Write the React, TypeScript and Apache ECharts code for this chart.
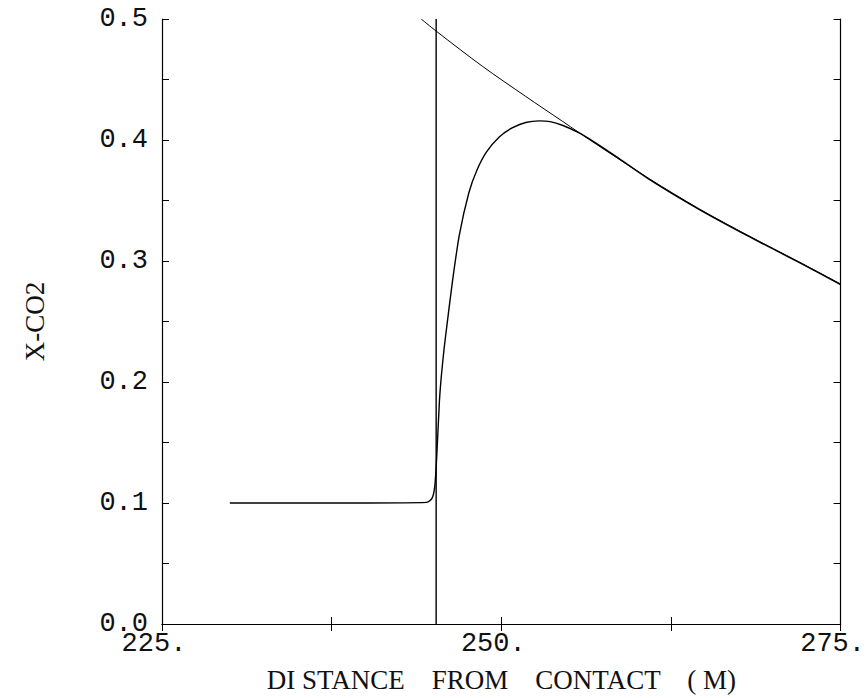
import React, { useEffect, useRef } from "react";
import * as echarts from "echarts";

const xTickLabels = [225, 250, 275];
const yTickLabels = [0.0, 0.1, 0.2, 0.3, 0.4, 0.5];

const contactLine: [number, number][] = [
  [245.2, 0.0],
  [245.2, 0.5],
];

const upperCurve: [number, number][] = [
  [244.1, 0.5],
  [245.2, 0.49],
  [248.6, 0.461],
  [251.8, 0.436],
  [254.5, 0.4155],
  [257.0, 0.3965],
  [260.9, 0.368],
  [264.6, 0.343],
  [268.2, 0.321],
  [271.9, 0.2995],
  [275.0, 0.281],
];

const lowerCurve: [number, number][] = [
  [230.0, 0.1],
  [236.0, 0.1],
  [240.0, 0.1],
  [244.5, 0.1005],
  [244.9, 0.104],
  [245.1, 0.114],
  [245.25, 0.14],
  [245.44, 0.184],
  [245.6, 0.207],
  [245.8, 0.229],
  [246.05, 0.252],
  [246.4, 0.283],
  [246.9, 0.321],
  [247.6, 0.356],
  [248.2, 0.375],
  [248.9, 0.39],
  [249.85, 0.4025],
  [250.8, 0.41],
  [251.8, 0.4145],
  [252.8, 0.4158],
  [253.6, 0.4152],
  [254.5, 0.4122],
  [255.7, 0.406],
  [257.0, 0.3972],
  [258.5, 0.386],
  [260.9, 0.3675],
  [264.6, 0.3425],
  [268.2, 0.3205],
  [271.9, 0.299],
  [275.0, 0.2805],
];

export default function App() {
  const ref = useRef<HTMLDivElement>(null);
  useEffect(() => {
    if (!ref.current) return;
    const chart = echarts.init(ref.current, null, { renderer: "svg" });
    const labelFont = {
      fontFamily: "Liberation Mono",
      fontSize: 27,
      color: "#111",
    };
    const titleFont = { fontFamily: "Liberation Serif", fontSize: 27, color: "#111" };
    const axisLine = { show: true, lineStyle: { color: "#000", width: 1.2 } };
    const tick = { show: true, inside: true, length: 7, lineStyle: { color: "#000", width: 1 } };
    chart.setOption({
      animation: false,
      backgroundColor: "#fff",
      grid: { left: 162, right: 26, top: 19, bottom: 71, containLabel: false },
      xAxis: [
        {
          type: "value",
          min: 225,
          max: 275,
          interval: 12.5,
          position: "bottom",
          axisLine,
          axisTick: tick,
          splitLine: { show: false },
          axisLabel: {
            ...labelFont,
            margin: 6,
            padding: [0, 16, 0, 0],
            formatter: (v: number) => (xTickLabels.includes(v) ? v + "." : ""),
          },
          name: "DI STANCE    FROM    CONTACT    ( M)",
          nameLocation: "middle",
          nameGap: 42,
          nameTextStyle: titleFont,
        },
        {
          type: "value",
          min: 225,
          max: 275,
          interval: 12.5,
          position: "top",
          axisLine,
          axisTick: tick,
          splitLine: { show: false },
          axisLabel: { show: false },
        },
      ],
      yAxis: [
        {
          type: "value",
          min: 0,
          max: 0.5,
          interval: 0.05,
          position: "left",
          axisLine,
          axisTick: tick,
          splitLine: { show: false },
          axisLabel: {
            ...labelFont,
            margin: 14,
            formatter: (v: number) => {
              const r = Math.round(v * 10) / 10;
              return Math.abs(v - r) < 1e-6 && yTickLabels.some((t) => Math.abs(t - r) < 1e-6)
                ? r.toFixed(1)
                : "";
            },
          },
          name: "X-CO2",
          nameLocation: "middle",
          nameGap: 114,
          nameRotate: 90,
          nameTextStyle: titleFont,
        },
        {
          type: "value",
          min: 0,
          max: 0.5,
          interval: 0.05,
          position: "right",
          axisLine,
          axisTick: tick,
          splitLine: { show: false },
          axisLabel: { show: false },
        },
      ],
      series: [
        {
          type: "line",
          data: contactLine,
          showSymbol: false,
          lineStyle: { color: "#000", width: 1.4 },
          silent: true,
        },
        {
          type: "line",
          data: upperCurve,
          showSymbol: false,
          smooth: 0.3,
          lineStyle: { color: "#000", width: 1 },
          silent: true,
        },
        {
          type: "line",
          data: lowerCurve,
          showSymbol: false,
          smooth: 0.25,
          lineStyle: { color: "#000", width: 1.4 },
          silent: true,
        },
      ],
    });
    return () => chart.dispose();
  }, []);
  return (
    <div
      ref={ref}
      style={{ position: "fixed", left: 0, top: 0, width: 868, height: 698, background: "#fff" }}
    />
  );
}
